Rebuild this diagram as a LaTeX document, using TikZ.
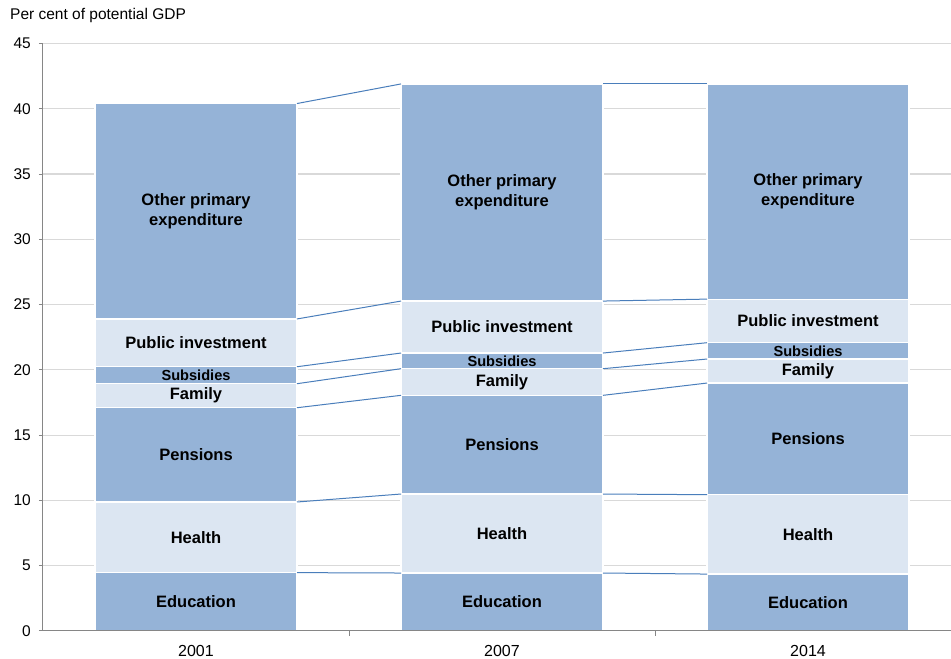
\documentclass[tikz,border=0pt]{standalone}
\usepackage{fontspec}
\setmainfont{Liberation Sans}
\usetikzlibrary{positioning}
\definecolor{bardark}{HTML}{95B3D7}
\definecolor{barlight}{HTML}{DCE6F2}
\definecolor{linkblue}{HTML}{4A7EBB}
\definecolor{gridgray}{HTML}{D9D9D9}
\definecolor{axisgray}{HTML}{868686}
\tikzset{
    darkseg/.style={fill=bardark, draw=white, line width=1.2pt},
    lightseg/.style={fill=barlight, draw=white, line width=1.2pt},
    link/.style={draw=linkblue, line width=1pt},
    gridline/.style={draw=gridgray, line width=1.2pt},
    axisline/.style={draw=axisgray, line width=1pt},
    seglabel/.style={font=\fontsize{16.5}{20}\selectfont\bfseries, align=center, inner sep=0pt},
    smalllabel/.style={font=\fontsize{14.6}{17}\selectfont\bfseries, inner sep=0pt},
    ticklabel/.style={font=\fontsize{15.5}{18}\selectfont, inner sep=0pt},
    yearlabel/.style={font=\fontsize{16}{18}\selectfont, inner sep=0pt}
}
\begin{document}
\begin{tikzpicture}[x=1pt,y=13.056pt]
	\useasboundingbox (-43,-2.145) rectangle (908,48.33);
	% grid
	\foreach \v in {5,10,...,45}
		\draw[gridline] (0,\v) -- (908,\v);
	% stacked bars: name / left edge / tops of the seven segments
	\foreach \nm/\xl/\a/\b/\c/\d/\e/\f/\g in {
		y01/52/4.47/9.88/17.1/18.94/20.24/23.9/40.4,
		y07/358/4.44/10.49/18.05/20.09/21.29/25.27/41.9,
		y14/664/4.36/10.44/18.99/20.83/22.08/25.42/41.9}{
		\draw[darkseg] (\xl,0) rectangle ({\xl+202},\a);
		\draw[lightseg] (\xl,\a) rectangle ({\xl+202},\b);
		\draw[darkseg] (\xl,\b) rectangle ({\xl+202},\c);
		\draw[lightseg] (\xl,\c) rectangle ({\xl+202},\d);
		\draw[darkseg] (\xl,\d) rectangle ({\xl+202},\e);
		\draw[lightseg] (\xl,\e) rectangle ({\xl+202},\f);
		\draw[darkseg] (\xl,\f) rectangle ({\xl+202},\g);
		\node[seglabel] (\nm-edu) at ({\xl+101},{\a/2}) {Education};
		\node[seglabel] (\nm-hea) at ({\xl+101},{(\a+\b)/2}) {Health};
		\node[seglabel] (\nm-pen) at ({\xl+101},{(\b+\c)/2}) {Pensions};
		\node[seglabel] (\nm-fam) at ({\xl+101},{(\c+\d)/2}) {Family};
		\node[smalllabel] (\nm-sub) at ({\xl+101},{(\d+\e)/2}) {Subsidies};
		\node[seglabel] (\nm-pub) at ({\xl+101},{(\e+\f)/2}) {Public investment};
		\node[seglabel] (\nm-oth) at ({\xl+101},{(\f+\g)/2}) {Other primary\\expenditure};
		\foreach \k/\v in {1/\a,2/\b,3/\c,4/\d,5/\e,6/\f,7/\g}{
			\coordinate (\nm-L\k) at (\xl,\v);
			\coordinate (\nm-R\k) at ({\xl+202},\v);
		}
	}
	% lines joining the segment tops
	\foreach \k in {1,...,7}{
		\draw[link] (y01-R\k) -- (y07-L\k);
		\draw[link] (y07-R\k) -- (y14-L\k);
	}
	% axes
	\draw[axisline] (0,0) -- (0,45);
	\draw[axisline] (0,0) -- (908,0);
	\foreach \v in {0,5,...,45}{
		\draw[axisline] (-4,\v) -- (0,\v);
		\node[ticklabel, anchor=east] (tick\v) at (-12,\v) {\v};
	}
	\foreach \t in {306,612}
		\draw[axisline] (\t,0) -- (\t,-0.38);
	\node[yearlabel] (yr01) at (153,-1.53) {2001};
	\node[yearlabel] (yr07) at (459,-1.53) {2007};
	\node[yearlabel] (yr14) at (765,-1.53) {2014};
	\node[ticklabel, anchor=west] (unit) at (-33,47.18) {Per cent of potential GDP};
\end{tikzpicture}
\end{document}
